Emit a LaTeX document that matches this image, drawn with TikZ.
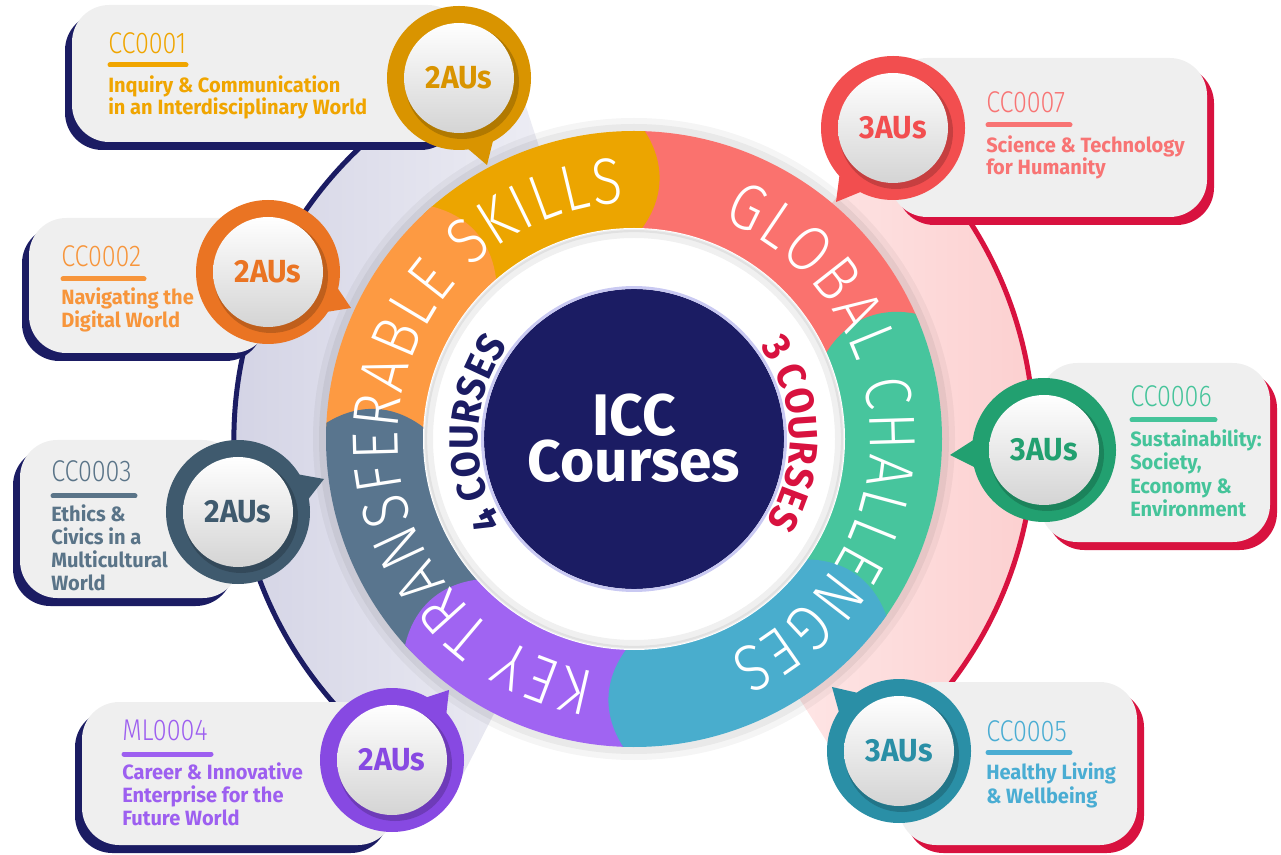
\documentclass[tikz,border=0pt]{standalone}
\usepackage{fontspec}
\setmainfont{Fira Sans}
\newfontfamily\tfont[FakeStretch=0.97]{Fira Sans}
\newfontfamily\afont[FakeStretch=0.94]{Fira Sans}
\IfFontExistsTF{Fira Sans Light}{%
  \newfontfamily\cfont[FakeStretch=0.84]{Fira Sans Light}%
  \newfontfamily\rfont[FakeStretch=0.85]{Fira Sans Light}}{%
  \newfontfamily\cfont[FakeStretch=0.84]{Fira Sans}%
  \newfontfamily\rfont[FakeStretch=0.85]{Fira Sans}}
\usetikzlibrary{decorations.text,calc}
\definecolor{navyc}{HTML}{1B1C63}
\definecolor{crim}{HTML}{D8123F}
\definecolor{boxf}{HTML}{EFEFEF}
\definecolor{lavA}{HTML}{D0D0E3}
\definecolor{lavB}{HTML}{F4F4F8}
\definecolor{pinkA}{HTML}{FFF4F4}
\definecolor{pinkB}{HTML}{FCCFCF}
\definecolor{lavline}{HTML}{C9C9F2}
\definecolor{sYel}{HTML}{ECA500}
\definecolor{sRed}{HTML}{FA726E}
\definecolor{sGrn}{HTML}{47C59D}
\definecolor{sBlu}{HTML}{49ADCD}
\definecolor{sPur}{HTML}{A064F2}
\definecolor{sSla}{HTML}{59758E}
\definecolor{sOra}{HTML}{FD9A42}
\definecolor{rA}{HTML}{D99400}\definecolor{tA}{HTML}{F0A500}
\definecolor{rB}{HTML}{EA7423}\definecolor{tB}{HTML}{F7953B}
\definecolor{rC}{HTML}{3F5A6E}\definecolor{tC}{HTML}{5A7488}
\definecolor{rD}{HTML}{8749E2}\definecolor{tD}{HTML}{9D5FF0}
\definecolor{rG}{HTML}{F24E4F}\definecolor{tG}{HTML}{F87474}
\definecolor{rF}{HTML}{22A070}\definecolor{tF}{HTML}{45C49A}
\definecolor{rE}{HTML}{2A8FA6}\definecolor{tE}{HTML}{4AADD3}
\definecolor{discB}{HTML}{D4D4D4}
\newcommand\mybubble[5]{%
  \coordinate (#1c) at (#2);
  \coordinate (#1t) at (#3);
  \fill[#4] let \p1=($(#1t)-(#1c)$), \n1={atan2(\y1,\x1)} in
    ($(#1c)+(\n1-17:64)$) -- (#1t) -- ($(#1c)+(\n1+17:64)$) -- cycle;
  \fill[#4] (#1c) circle[radius=72];
  \fill[black,opacity=.18] ($(#1c)+(3,-4)$) circle[radius=57];
  \shade[top color=white,bottom color=discB] (#1c) circle[radius=55];
  \node[aus,text=#4] (#1) at (#1c) {#5};
}
\begin{document}
\begin{tikzpicture}[x=0.75pt,y=0.75pt,
  code/.style={anchor=base west,inner sep=0pt,font=\cfont\fontsize{22.5}{24}\selectfont},
  ttl/.style={anchor=base west,inner sep=0pt,font=\tfont\bfseries\fontsize{15.5}{18}\selectfont},
  aus/.style={inner sep=0pt,font=\afont\bfseries\fontsize{24}{24}\selectfont},
  bar/.style={line width=3.75pt,line cap=round},
  ringtxt/.style={decorate,decoration={text along path,text align=fit to path,text color=white,text={|\rfont\fontsize{49}{49}\selectfont|#1}}},
  crstxt/.style 2 args={decorate,decoration={text along path,text align=center,text color=#1,text={|\afont\bfseries\fontsize{30}{30}\selectfont|#2}}}]
\useasboundingbox (0,0) rectangle (1281,854);
\coordinate (O) at (634,415);
% background sectors
\shade[left color=lavA,right color=lavB] (O) -- ($(O)+(108:400)$) arc[start angle=108,end angle=243,radius=400] -- cycle;
\shade[left color=pinkA,right color=pinkB] (O) -- ($(O)+(-57.5:400)$) arc[start angle=-57.5,end angle=50,radius=400] -- cycle;
\draw[navyc,line width=3.75pt] ($(O)+(108:400)$) arc[start angle=108,end angle=243,radius=400];
\draw[crim,line width=3.75pt] ($(O)+(-57.5:400)$) arc[start angle=-57.5,end angle=50,radius=400];
% ring shadow
\fill[black,opacity=.04] (O) circle[radius=321];
\fill[black,opacity=.05] (O) circle[radius=315];
% ring segments
\fill[sRed] ($(O)+(90:308)$) arc[start angle=90,end angle=22,radius=308] -- ($(O)+(22:210)$) arc[start angle=22,end angle=90,radius=210] -- cycle;
\fill[sYel] ($(O)+(133:308)$) arc[start angle=133,end angle=88,radius=308] to[bend left=35] ($(O)+(88:210)$) arc[start angle=88,end angle=133,radius=210] -- cycle;
\fill[sOra] ($(O)+(179:308)$) arc[start angle=179,end angle=131,radius=308] to[bend left=35] ($(O)+(131:210)$) arc[start angle=131,end angle=179,radius=210] -- cycle;
\fill[sSla] ($(O)+(224:308)$) arc[start angle=224,end angle=177,radius=308] to[bend left=35] ($(O)+(177:210)$) arc[start angle=177,end angle=224,radius=210] -- cycle;
\fill[sPur] ($(O)+(270:308)$) arc[start angle=270,end angle=222,radius=308] to[bend left=35] ($(O)+(222:210)$) arc[start angle=222,end angle=270,radius=210] -- cycle;
\fill[sGrn] ($(O)+(384:308)$) arc[start angle=384,end angle=323,radius=308] -- ($(O)+(323:210)$) arc[start angle=323,end angle=384,radius=210] to[bend left=35] ($(O)+(384:308)$) -- cycle;
\fill[sBlu] ($(O)+(325:308)$) arc[start angle=325,end angle=268,radius=308] to[bend left=35] ($(O)+(268:210)$) arc[start angle=268,end angle=325,radius=210] to[bend left=35] ($(O)+(325:308)$) -- cycle;
% ring texts
\path[ringtxt={KEY TRANSFERABLE SKILLS}] ($(O)+(260.6:236)$) arc[start angle=260.6,end angle=92.4,radius=236];
\path[ringtxt={GLOBAL CHALLENGES}] ($(O)+(68:236)$) arc[start angle=68,end angle=-66.4,radius=236];
% inner disc
\fill[white] (O) circle[radius=211];
\draw[black,opacity=.06,line width=6pt] (O) circle[radius=205];
\draw[black,opacity=.06,line width=2.5pt] (O) circle[radius=208.5];
\fill[navyc] (O) circle[radius=150];
\draw[lavline,line width=2.2pt] (O) circle[radius=151.5];
\path[crstxt={navyc}{4 COURSES}] ($(O)+(232:156)$) arc[start angle=232,end angle=124,radius=156];
\path[crstxt={crim}{3 COURSES}] ($(O)+(56:156)$) arc[start angle=56,end angle=-52,radius=156];
\node[anchor=base,inner sep=0pt,text=white,font=\bfseries\fontsize{44}{44}\selectfont] (icc) at (634,418) {ICC};
\node[anchor=base,inner sep=0pt,text=white,font=\bfseries\fontsize{44}{44}\selectfont] (courses) at (634,373) {Courses};
% boxes (left, navy shadow)
\fill[navyc,rounded corners=28pt] (65,704) rectangle (458,841);
\fill[boxf,rounded corners=28pt] (72,712) rectangle (465,849);
\fill[navyc,rounded corners=28pt] (22,493) rectangle (263,628);
\fill[boxf,rounded corners=28pt] (29,501) rectangle (270,636);
\fill[navyc,rounded corners=28pt] (13,248) rectangle (233,406);
\fill[boxf,rounded corners=28pt] (20,256) rectangle (240,414);
\fill[navyc,rounded corners=28pt] (75,1) rectangle (388,144);
\fill[boxf,rounded corners=28pt] (82,9) rectangle (395,152);
% boxes (right, crimson shadow)
\fill[crim,rounded corners=28pt] (897,629) rectangle (1214,788);
\fill[boxf,rounded corners=28pt] (890,637) rectangle (1207,796);
\fill[crim,rounded corners=28pt] (1047,304) rectangle (1277,483);
\fill[boxf,rounded corners=28pt] (1040,312) rectangle (1270,491);
\fill[crim,rounded corners=28pt] (906,1) rectangle (1144,164);
\fill[boxf,rounded corners=28pt] (899,9) rectangle (1137,172);
% bubbles
\mybubble{bA}{459,776}{487,689}{rA}{2AUs}
\mybubble{bB}{268,582}{351,546}{rB}{2AUs}
\mybubble{bC}{238,342}{324,375}{rC}{2AUs}
\mybubble{bD}{392,94}{449,164}{rD}{2AUs}
\mybubble{bG}{893,726}{836,652}{rG}{3AUs}
\mybubble{bF}{1044,404}{950,399}{rF}{3AUs}
\mybubble{bE}{899,103}{832,167}{rE}{3AUs}
% texts CC0001
\node[code,text=tA] (kA) at (108,800) {CC0001};
\draw[bar,tA] (110,789) -- (186,789);
\node[ttl,text=tA] (kA1) at (108,761) {Inquiry \& Communication};
\node[ttl,text=tA] (kA2) at (108,739) {in an Interdisciplinary World};
% CC0002
\node[code,text=tB] (kB) at (61,587) {CC0002};
\draw[bar,tB] (63,575) -- (144,575);
\node[ttl,text=tB] (kB1) at (61,549) {Navigating the};
\node[ttl,text=tB] (kB2) at (61,526) {Digital World};
% CC0003
\node[code,text=tC] (kC) at (51,372) {CC0003};
\draw[bar,tC] (53,358) -- (135,358);
\node[ttl,text=tC] (kC1) at (51,332) {Ethics \&};
\node[ttl,text=tC] (kC2) at (51,310) {Civics in a};
\node[ttl,text=tC] (kC3) at (51,287) {Multicultural};
\node[ttl,text=tC] (kC4) at (51,264) {World};
% ML0004
\node[code,text=tD] (kD) at (122,114) {ML0004};
\draw[bar,tD] (124,100) -- (211,100);
\node[ttl,text=tD] (kD1) at (122,75) {Career \& Innovative};
\node[ttl,text=tD] (kD2) at (122,52) {Enterprise for the};
\node[ttl,text=tD] (kD3) at (122,29) {Future World};
% CC0007
\node[code,text=tG] (kG) at (986,741) {CC0007};
\draw[bar,tG] (988,729) -- (1070,729);
\node[ttl,text=tG] (kG1) at (986,701) {Science \& Technology};
\node[ttl,text=tG] (kG2) at (986,679) {for Humanity};
% CC0006
\node[code,text=tF] (kF) at (1130,447) {CC0006};
\draw[bar,tF] (1132,434) -- (1215,434);
\node[ttl,text=tF] (kF1) at (1130,407) {Sustainability:};
\node[ttl,text=tF] (kF2) at (1130,384) {Society,};
\node[ttl,text=tF] (kF3) at (1130,360) {Economy \&};
\node[ttl,text=tF] (kF4) at (1130,337) {Environment};
% CC0005
\node[code,text=tE] (kE) at (986,113) {CC0005};
\draw[bar,tE] (988,101.5) -- (1070,101.5);
\node[ttl,text=tE] (kE1) at (986,75) {Healthy Living};
\node[ttl,text=tE] (kE2) at (986,51) {\& Wellbeing};
\end{tikzpicture}
\end{document}
